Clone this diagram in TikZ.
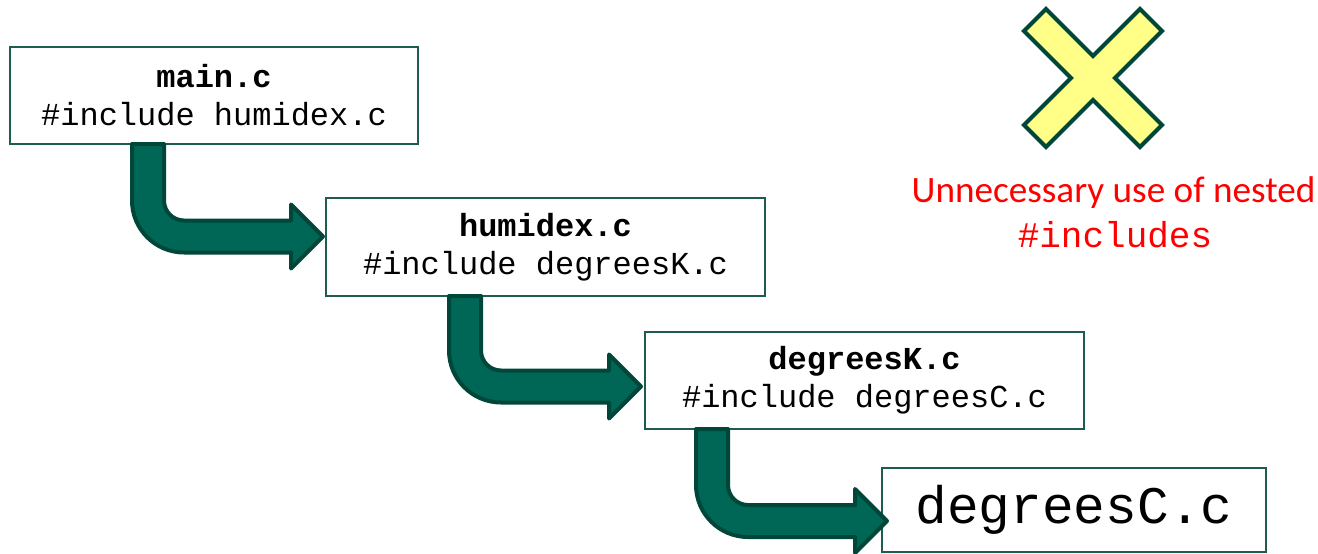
\documentclass[tikz,border=0pt]{standalone}
\usepackage{fontspec}
\setmonofont{Liberation Mono}
\newfontfamily\calibri{Carlito}
\usetikzlibrary{calc}

\definecolor{arrowfill}{HTML}{006655}
\definecolor{arrowline}{HTML}{00473A}
\definecolor{boxline}{HTML}{1E5C50}
\definecolor{crossfill}{HTML}{FFFF88}

\tikzset{
  filebox/.style={draw=boxline, line width=1pt, fill=white, inner sep=0pt, align=center,
    font=\ttfamily\fontsize{16}{19}\selectfont},
  bendarrow/.style={fill=arrowfill, draw=arrowline, line width=2pt, line join=round},
  nogood/.style={fill=crossfill, draw=arrowline, line width=2pt},
}

% bent block arrow: #1 top of the shaft (centre), #2 tip
\newcommand{\bentarrow}[2]{%
  \filldraw[bendarrow] let \p1=#1, \p2=#2 in
    (\x1-8pt,\y1) -- (\x1-8pt,\y2+18pt)
    arc[start angle=180, end angle=270, radius=26pt]
    -- (\x2-16pt,\y2-8pt) -- (\x2-16pt,\y2-16pt) -- (\x2,\y2)
    -- (\x2-16pt,\y2+16pt) -- (\x2-16pt,\y2+8pt) -- (\x1+18pt,\y2+8pt)
    arc[start angle=270, end angle=180, radius=10pt]
    -- (\x1+8pt,\y1) -- cycle;}

\begin{document}
\begin{tikzpicture}[x=0.5pt,y=0.5pt]
  \useasboundingbox (0,0) rectangle (1318,553);

  % the chain of files
  \node[filebox, minimum width=204pt, minimum height=48.5pt] (main) at (214,457.5)
    {\textbf{main.c}\\\#include humidex.c};
  \node[filebox, minimum width=219.5pt, minimum height=49pt] (humidex) at (545.5,306)
    {\textbf{humidex.c}\\\#include degreesK.c};
  \node[filebox, minimum width=219.5pt, minimum height=48.5pt] (degreesK) at (864.5,172.5)
    {\textbf{degreesK.c}\\\#include degreesC.c};
  \node[filebox, minimum width=192pt, minimum height=42pt,
    font=\ttfamily\fontsize{26.4}{30}\selectfont] (degreesC) at (1074,43) {degreesC.c};

  % include arrows
  \bentarrow{($(main.south west)+(139,1)$)}{($(humidex.west)+(-2,10.5)$)}
  \bentarrow{($(humidex.south west)+(140,1)$)}{($(degreesK.west)+(-3,-6)$)}
  \bentarrow{($(degreesK.south west)+(68,1)$)}{($(degreesC.west)+(6,-11)$)}

  % cross and remark
  \filldraw[nogood, shift={(1093,475)}]
    (-47,69) -- (0,22) -- (47,69) -- (69,47) -- (22,0) -- (69,-47)
    -- (47,-69) -- (0,-22) -- (-47,-69) -- (-69,-47) -- (-22,0) -- (-69,47) -- cycle;
  \node[anchor=base, text=red, font=\calibri\fontsize{18.6}{20}\selectfont] (remark) at (1113.5,351)
    {Unnecessary use of nested};
  \node[anchor=base, text=red, font=\ttfamily\fontsize{18}{20}\selectfont] (remarkcode) at (1115,306)
    {\#includes};
\end{tikzpicture}
\end{document}
